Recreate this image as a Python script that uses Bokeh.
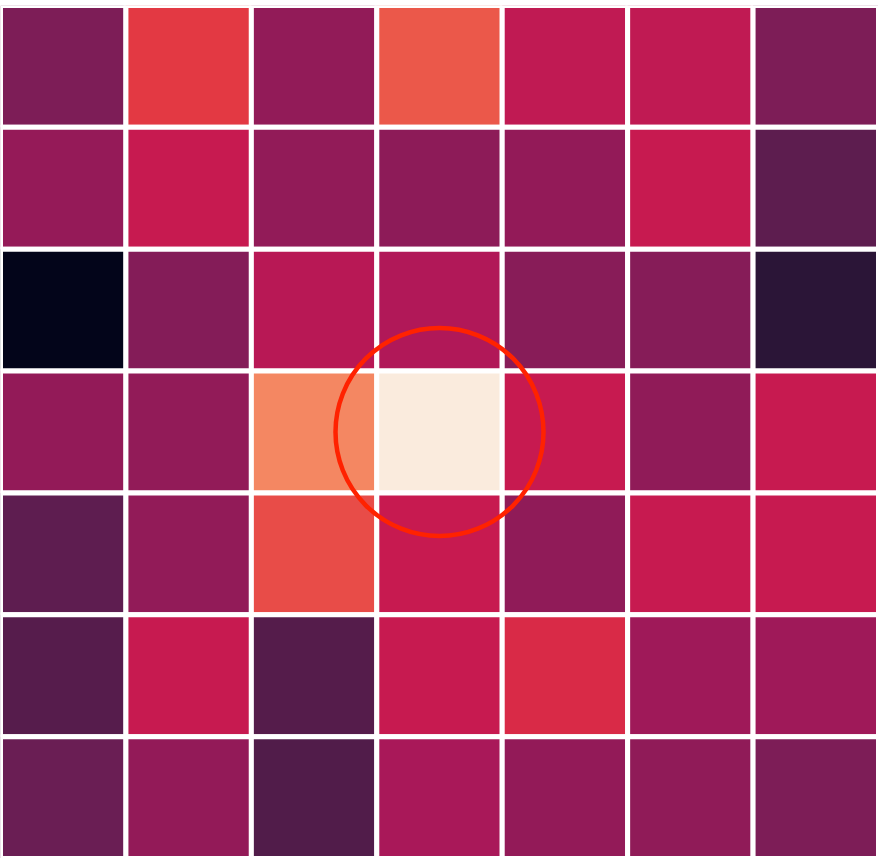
import numpy as np
from bokeh.plotting import figure
from bokeh.models import LinearColorMapper, Range1d, ColumnDataSource
from bokeh.transform import transform
from bokeh.embed import file_html
from bokeh.resources import INLINE

# --- data ---
n_rows = 7
n_cols = 7
values = [
    [0.319, 0.584, 0.366, 0.650, 0.475, 0.475, 0.317],
    [0.372, 0.492, 0.364, 0.352, 0.368, 0.492, 0.242],
    [0.000, 0.333, 0.455, 0.441, 0.340, 0.338, 0.117],
    [0.370, 0.364, 0.753, 1.000, 0.492, 0.362, 0.492],
    [0.245, 0.365, 0.622, 0.492, 0.362, 0.490, 0.492],
    [0.223, 0.492, 0.221, 0.490, 0.545, 0.395, 0.395],
    [0.270, 0.370, 0.213, 0.420, 0.368, 0.362, 0.319],
]
highlight_row = 3
highlight_col = 3

# rocket-like palette
stop_pos = [0.0, 0.143, 0.286, 0.429, 0.5, 0.571, 0.714, 0.857, 1.0]
stops = ["#03051A", "#35193E", "#701F57", "#AD1759", "#CB1B4F", "#E13342", "#F37651", "#F6B48F", "#FAEBDD"]
def hex2rgb(h):
    h = h.lstrip("#")
    return [int(h[i:i + 2], 16) for i in (0, 2, 4)]
srgb = np.array([hex2rgb(s) for s in stops], dtype=float)
t = np.linspace(0, 1, 256)
pal = []
for tt in t:
    r = np.interp(tt, stop_pos, srgb[:, 0]); g = np.interp(tt, stop_pos, srgb[:, 1]); b = np.interp(tt, stop_pos, srgb[:, 2])
    pal.append("#%02x%02x%02x" % (int(round(r)), int(round(g)), int(round(b))))

xs, ys, vs = [], [], []
for r in range(n_rows):
    for c in range(n_cols):
        xs.append(c + 0.5)
        ys.append(r + 0.5)
        vs.append(values[r][c])
src = ColumnDataSource(dict(x=xs, y=ys, v=vs))
mapper = LinearColorMapper(palette=pal, low=0.0, high=1.0)

p = figure(width=878, height=858, output_backend="svg", toolbar_location=None,
           x_range=Range1d(0, n_cols), y_range=Range1d(n_rows, 0),
           min_border_left=0, min_border_right=0, min_border_top=5, min_border_bottom=0)
p.axis.visible = False
p.grid.visible = False
p.outline_line_color = None
p.background_fill_color = "white"
p.border_fill_color = "white"

p.rect(x="x", y="y", width=1, height=1, source=src,
       fill_color=transform("v", mapper), line_color="white", line_width=5)

p.scatter(x=[highlight_col + 0.5], y=[highlight_row + 0.5], marker="circle", size=208,
          fill_alpha=0, line_color="#FF2200", line_width=4.5)

open("out.html", "w").write(file_html(p, INLINE))
